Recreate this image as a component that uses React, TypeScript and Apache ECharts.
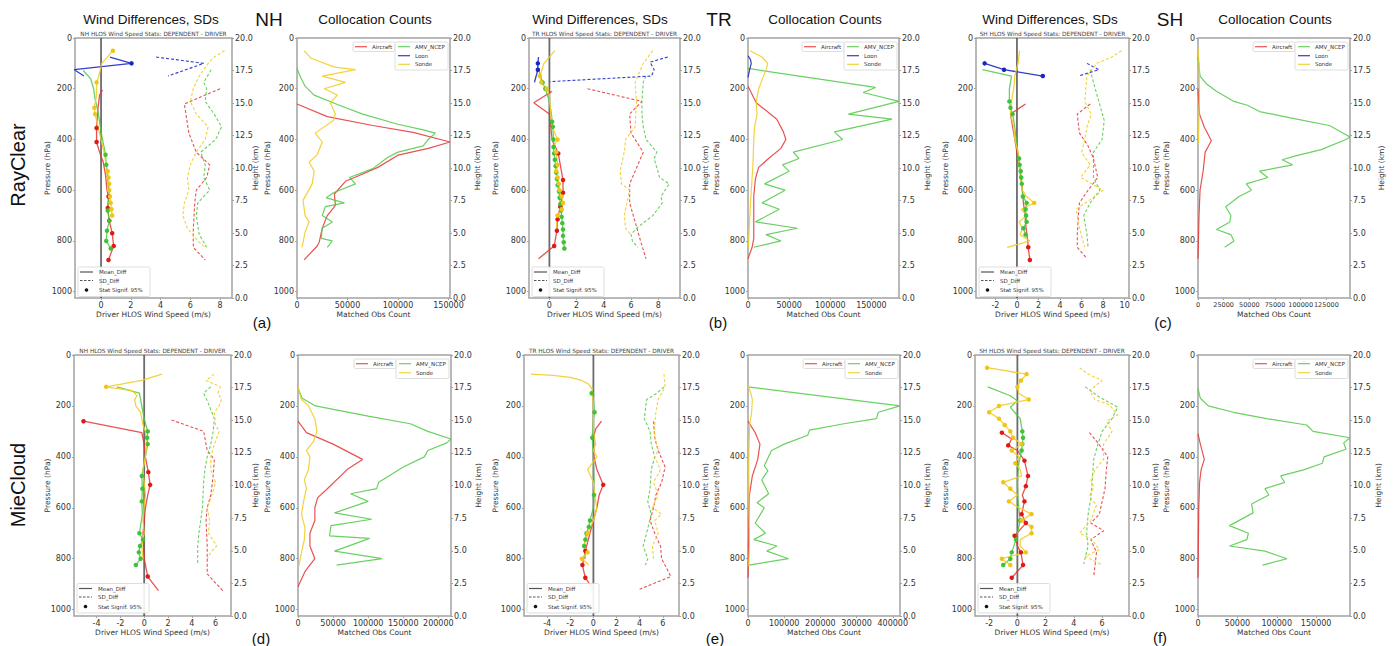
import { useEffect, useRef } from 'react';
import * as echarts from 'echarts';

// ---------------- DATA ----------------
// Mean differences: [wind speed diff (m/s), pressure (hPa), significant at 95% (1/0)]
// SD differences:   [wind speed SD (m/s), pressure (hPa)]
// Counts:           [matched obs count, pressure (hPa)]

// ---- NH RayClear ----
const NH_RC_AIR_MEAN = [[0.1,205,0],[-0.1,225,0],[-0.2,275,0],[-0.25,310,0],[-0.3,355,1],[-0.3,410,1],[-0.1,450,0],[0.15,490,0],[0.3,540,0],[0.4,600,0],[0.5,625,1],[0.45,670,1],[0.55,720,1],[0.75,770,1],[0.85,820,1],[0.5,875,1]];
const NH_RC_AMV_MEAN = [[-1.2,128,0],[-0.7,160,0],[-0.5,200,0],[-0.4,240,0],[-0.2,290,0],[0.0,370,0],[0.3,460,1],[0.35,500,1],[0.45,560,0],[0.55,620,0],[0.45,680,1],[0.55,720,1],[0.4,760,1],[0.35,800,1],[0.65,830,1]];
const NH_RC_LOON_MEAN = [[0.6,75,0],[2.05,100,1],[-1.8,125,0],[-1.15,150,0]];
const NH_RC_SONDE_MEAN = [[0.8,50,1],[0.05,100,0],[-0.15,150,0],[-0.3,175,1],[-0.3,225,0],[-0.45,275,1],[-0.4,300,1],[-0.2,350,0],[0.0,400,0],[0.2,450,0],[0.35,500,0],[0.45,525,1],[0.5,550,1],[0.55,575,1],[0.55,600,1],[0.6,625,1],[0.65,650,1],[0.7,675,1],[0.75,700,1]];
const NH_RC_AIR_SD = [[8.0,200],[5.6,260],[5.9,375],[6.4,450],[7.3,500],[7.1,550],[6.4,600],[6.3,650],[6.2,750],[6.2,825],[7.0,875]];
const NH_RC_AMV_SD = [[7.4,125],[6.9,175],[7.1,200],[7.0,250],[7.6,300],[8.1,350],[7.7,400],[6.7,450],[7.0,500],[6.9,550],[7.3,600],[6.5,650],[6.4,700],[6.6,775],[7.1,825]];
const NH_RC_LOON_SD = [[3.7,75],[6.9,100],[4.5,150]];
const NH_RC_SONDE_SD = [[8.3,50],[7.6,75],[7.2,100],[6.6,150],[6.2,200],[6.0,250],[6.4,300],[7.2,350],[7.0,400],[6.4,450],[6.0,500],[5.8,550],[5.9,600],[5.6,650],[5.5,700],[5.8,750],[6.5,800],[7.0,825]];
const NH_RC_AIR_CNT = [[0,260],[30000,310],[75000,345],[115000,372],[151500,410],[130000,435],[100000,462],[80000,510],[57000,550],[48000,565],[37000,615],[38000,660],[30000,700],[25000,750],[22000,805],[20000,820],[7000,875]];
const NH_RC_AMV_CNT = [[0,120],[3000,150],[8000,190],[17000,225],[40000,262],[65000,300],[100000,340],[125000,362],[137000,375],[130000,400],[125000,425],[100000,450],[90000,470],[75000,515],[52000,550],[58000,575],[36000,610],[29000,630],[47000,650],[28000,665],[25000,700],[35000,725],[25000,750],[24000,790],[35000,800],[30000,825]];
const NH_RC_SONDE_CNT = [[7000,50],[14000,80],[37000,115],[58000,125],[25000,150],[48000,175],[27000,200],[40000,225],[33000,255],[38000,300],[36000,325],[18000,375],[25000,410],[20000,460],[12000,490],[17000,525],[15000,575],[6000,640],[8000,700],[12000,725],[8000,765],[5000,825]];

// ---- TR RayClear ----
const TR_RC_AIR_MEAN = [[0.2,210,0],[-1.15,255,0],[0.0,300,0],[0.1,350,0],[0.2,400,0],[0.65,455,1],[0.8,500,0],[1.0,560,1],[1.0,610,1],[0.8,665,1],[0.6,715,1],[0.55,760,1],[0.35,820,1],[-0.8,870,0]];
const TR_RC_AMV_MEAN = [[-0.8,125,0],[-0.5,175,1],[-0.3,200,1],[0.0,250,0],[0.15,300,0],[0.2,330,1],[0.25,350,1],[0.3,400,1],[0.3,430,1],[0.35,455,1],[0.4,480,1],[0.45,505,1],[0.5,530,1],[0.55,555,1],[0.6,580,1],[0.7,605,1],[0.75,630,1],[0.8,655,1],[0.85,680,1],[0.9,705,1],[0.95,730,1],[1.0,755,1],[1.0,780,1],[1.05,805,1],[1.1,830,1]];
const TR_RC_LOON_MEAN = [[-0.8,75,0],[-0.85,100,1],[-0.85,125,1],[-1.1,175,0]];
const TR_RC_SONDE_MEAN = [[0.4,50,0],[-0.4,100,0],[-0.7,150,1],[-0.6,175,1],[-0.2,200,1],[0.0,225,0],[0.1,300,0],[0.2,350,0],[0.6,400,1],[0.35,425,0],[0.5,450,1],[0.6,500,1],[0.5,525,1],[0.6,550,1],[0.7,575,1],[0.75,600,1],[0.9,625,1],[1.0,650,1],[0.9,675,1],[0.6,700,1],[0.5,750,0]];
const TR_RC_AIR_SD = [[2.8,200],[6.8,250],[5.9,300],[6.0,375],[6.9,450],[6.3,525],[5.9,575],[5.9,650],[6.3,725],[6.7,800],[7.1,870]];
const TR_RC_AMV_SD = [[7.1,150],[6.9,175],[6.8,250],[6.8,300],[6.9,350],[7.1,400],[7.9,450],[7.7,475],[8.1,550],[8.8,575],[8.2,625],[8.3,650],[7.6,700],[6.4,750],[6.0,775],[6.1,800],[6.5,825]];
const TR_RC_LOON_SD = [[8.7,75],[7.4,95],[7.7,125],[7.5,150],[0.05,172]];
const TR_RC_SONDE_SD = [[7.6,50],[6.9,100],[6.5,150],[6.3,175],[6.4,250],[6.3,350],[5.6,400],[5.5,450],[5.2,525],[5.3,575],[5.9,600],[5.7,650],[5.5,700],[5.6,750],[6.0,775]];
const TR_RC_AIR_CNT = [[0,190],[10000,255],[35000,320],[43000,370],[46000,400],[40000,435],[25000,475],[13000,510],[9000,555],[7000,625],[7000,790],[5000,825],[0,870]];
const TR_RC_AMV_CNT = [[0,120],[155000,195],[140000,215],[183500,250],[122000,300],[175000,320],[105000,370],[115000,400],[55000,450],[62000,475],[42000,500],[50000,525],[20000,575],[45000,600],[17000,650],[38000,675],[9000,725],[60000,750],[22000,775],[40000,800],[7000,825]];
const TR_RC_LOON_CNT = [[0,70],[3000,85],[4000,100],[2000,125],[0,155]];
const TR_RC_SONDE_CNT = [[2500,50],[17000,75],[24000,100],[22000,125],[17000,165],[13000,200],[10000,250],[11000,300],[8000,350],[7000,400],[6000,500],[4500,575],[3000,650],[1500,750],[500,825]];

// ---- SH RayClear ----
const SH_RC_AIR_MEAN = [[0.8,260,0],[-0.6,300,0],[-0.4,350,0],[-0.2,400,0],[0.0,450,0],[0.2,500,0],[0.35,550,0],[0.5,600,0],[0.6,650,0],[0.75,700,0],[0.85,750,0],[1.0,800,0],[1.05,825,1],[1.2,875,1]];
const SH_RC_AMV_MEAN = [[-3.2,125,0],[-0.5,150,0],[-0.6,175,0],[-0.7,200,0],[-0.7,250,1],[-0.6,275,1],[-0.4,300,1],[-0.2,350,0],[0.0,425,0],[0.2,475,1],[0.25,500,1],[0.35,525,1],[0.4,550,1],[0.45,575,1],[0.55,625,1],[0.9,650,1],[0.8,675,1],[0.85,700,1],[0.9,725,1],[0.6,750,1],[0.8,775,1]];
const SH_RC_LOON_MEAN = [[-3.0,100,1],[-1.2,125,1],[2.4,150,1]];
const SH_RC_SONDE_MEAN = [[0.25,50,0],[0.1,100,0],[-0.2,150,0],[-0.3,200,0],[-0.5,250,0],[-0.6,300,0],[-0.3,350,0],[-0.2,400,0],[0.1,450,0],[0.2,500,0],[0.3,550,0],[0.5,600,0],[0.9,625,0],[1.6,650,1],[0.4,675,0],[0.9,700,0],[0.2,725,0],[0.5,750,0],[0.3,775,0],[1.2,800,0],[-0.9,825,0]];
const SH_RC_AIR_SD = [[6.8,260],[5.6,300],[5.8,375],[6.6,425],[7.1,475],[7.5,550],[6.6,600],[5.8,650],[5.7,700],[5.6,775],[5.6,825],[6.5,870]];
const SH_RC_AMV_SD = [[6.8,125],[7.1,175],[7.6,250],[8.1,325],[7.9,400],[7.1,450],[7.1,550],[7.7,600],[6.8,650],[6.2,700],[6.5,775],[6.6,825]];
const SH_RC_LOON_SD = [[6.5,100],[7.6,125],[5.7,150]];
const SH_RC_SONDE_SD = [[9.7,50],[8.8,75],[7.4,100],[6.5,150],[6.4,200],[6.3,250],[6.9,300],[6.5,350],[6.3,400],[6.0,450],[6.8,500],[5.9,550],[8.0,600],[7.2,625],[5.5,675],[5.8,750],[6.3,825]];
const SH_RC_AIR_CNT = [[0,200],[1500,300],[6000,350],[13000,405],[7000,450],[5000,525],[2000,600],[1000,700],[0,870]];
const SH_RC_AMV_CNT = [[0,75],[2000,150],[8000,180],[18000,210],[35000,250],[48000,265],[60000,290],[90000,315],[128000,345],[148000,390],[144000,400],[120000,440],[95000,465],[82000,480],[92000,500],[60000,525],[68000,550],[47000,575],[52000,600],[40000,625],[27000,665],[32000,700],[31000,725],[18000,755],[32000,775],[35000,800],[26000,825]];
const SH_RC_SONDE_CNT = [[0,40],[1000,100],[1500,200],[1000,300],[500,400],[0,420]];

// ---- NH MieCloud ----
const NH_MC_AIR_MEAN = [[-5.1,260,1],[-0.2,305,0],[0.0,350,0],[0.1,400,0],[0.35,460,1],[0.5,510,1],[0.3,550,0],[0.1,600,0],[0.0,650,0],[-0.1,700,0],[-0.05,750,0],[0.0,800,0],[0.3,870,1],[1.2,925,0]];
const NH_MC_AMV_MEAN = [[-2.3,125,0],[-0.4,150,0],[-0.2,200,0],[0.0,250,0],[0.3,300,1],[0.25,325,1],[0.3,350,1],[0.1,400,0],[-0.1,450,0],[-0.2,475,1],[-0.15,525,1],[-0.2,575,1],[-0.15,625,0],[-0.4,700,1],[-0.1,725,1],[-0.35,750,1],[-0.45,775,1],[-0.3,800,1],[-0.7,825,1]];
const NH_MC_SONDE_MEAN = [[1.5,75,0],[-0.2,100,0],[-3.2,125,1],[-1.0,140,0],[-0.6,160,0],[-0.8,175,0],[-0.7,200,0],[-0.3,225,0],[-0.1,275,0],[0.1,300,0],[0.2,350,0],[0.1,400,0],[-0.1,450,0],[0.0,500,0],[0.1,550,0],[0.0,600,0],[-0.1,650,0],[0.0,700,0],[-0.2,750,0],[-0.1,800,0]];
const NH_MC_AIR_SD = [[2.3,255],[5.0,300],[5.3,375],[5.9,410],[5.8,475],[5.6,550],[5.3,600],[5.2,650],[5.3,750],[5.3,860],[6.6,925]];
const NH_MC_AMV_SD = [[5.6,125],[5.0,150],[5.4,190],[5.9,250],[5.8,300],[5.6,350],[5.3,400],[5.1,450],[5.0,500],[4.9,600],[4.6,700],[4.5,750],[4.5,825]];
const NH_MC_SONDE_SD = [[5.9,75],[5.2,100],[6.4,125],[6.2,150],[6.5,175],[6.3,200],[5.9,225],[6.0,275],[6.3,300],[5.9,350],[5.6,400],[5.6,450],[6.0,500],[5.7,550],[5.3,600],[5.5,650],[5.4,700],[6.1,750],[5.6,775],[5.3,800]];
const NH_MC_AIR_CNT = [[0,260],[12000,305],[50000,350],[92000,410],[70000,450],[40000,530],[28000,560],[24000,600],[24000,650],[17000,700],[17000,750],[24000,800],[10000,850],[0,910]];
const NH_MC_AMV_CNT = [[0,130],[6000,170],[25000,200],[100000,240],[160000,270],[185000,300],[218000,330],[212000,345],[185000,375],[180000,400],[150000,440],[115000,500],[112000,525],[75000,545],[100000,575],[52000,620],[105000,645],[47000,670],[45000,710],[102000,720],[52000,770],[120000,800],[55000,825]];
const NH_MC_SONDE_CNT = [[0,125],[5000,175],[15000,200],[24000,250],[27000,300],[22000,340],[12000,375],[17000,400],[15000,450],[9000,490],[12000,525],[8000,575],[5000,625],[10000,680],[9000,725],[5000,775],[1000,830]];

// ---- TR MieCloud ----
const TR_MC_AIR_MEAN = [[0.7,260,0],[0.2,290,0],[0.0,325,0],[0.05,400,0],[0.3,450,0],[0.85,510,1],[0.5,550,0],[0.3,600,0],[0.0,650,0],[-0.3,700,0],[-0.7,770,1],[-0.95,825,1],[-0.7,875,1],[0.0,920,0]];
const TR_MC_AMV_MEAN = [[0.0,125,0],[-0.15,150,1],[0.0,175,0],[0.1,225,1],[0.0,250,0],[-0.1,325,1],[0.0,400,0],[0.05,500,0],[0.05,550,1],[0.0,600,0],[-0.3,650,1],[-0.4,675,1],[-0.6,700,1],[-0.7,725,1],[-0.8,750,1],[-0.7,800,0]];
const TR_MC_SONDE_MEAN = [[-5.4,75,0],[-3.5,80,0],[-2.0,88,0],[-1.0,100,0],[-0.4,115,0],[-0.1,135,0],[0.0,200,0],[0.0,250,0],[0.0,300,0],[0.2,350,0],[0.0,375,0],[0.3,400,0],[-0.5,450,0],[0.0,500,0],[0.1,550,0],[0.3,600,0],[0.0,650,0],[-0.5,700,1],[-0.6,725,0],[-0.9,750,0],[-0.5,775,1],[-1.0,800,1],[-0.4,825,0]];
const TR_MC_AIR_SD = [[5.2,260],[5.3,325],[5.6,375],[6.2,440],[5.9,500],[5.4,550],[5.2,600],[4.9,650],[5.3,700],[5.8,750],[5.9,800],[6.7,870],[4.0,920]];
const TR_MC_AMV_SD = [[6.1,125],[5.5,150],[4.6,175],[4.4,250],[4.9,300],[5.0,350],[5.3,400],[5.0,450],[4.9,525],[4.7,575],[5.0,625],[4.6,700],[4.3,750],[4.7,800],[4.5,825]];
const TR_MC_SONDE_SD = [[6.1,75],[6.2,125],[5.6,175],[5.4,225],[5.3,275],[5.3,325],[5.6,375],[5.3,400],[5.8,450],[5.2,500],[5.6,550],[5.1,600],[5.9,625],[5.3,650],[5.6,700],[5.1,750],[5.2,800]];
const TR_MC_AIR_CNT = [[0,260],[20000,305],[33000,350],[27000,410],[12000,475],[4000,550],[2000,650],[1000,800],[0,875]];
const TR_MC_AMV_CNT = [[0,125],[420000,200],[360000,225],[355000,250],[265000,270],[170000,295],[165000,315],[100000,350],[65000,375],[45000,435],[55000,455],[38000,490],[57000,545],[25000,580],[45000,600],[20000,660],[48000,700],[16000,725],[80000,750],[52000,770],[112000,800],[2000,825]];
const TR_MC_SONDE_CNT = [[0,120],[8000,150],[12000,175],[10000,225],[5000,270],[3000,350],[2000,450],[3000,600],[4000,750],[2000,830]];

// ---- SH MieCloud ----
const SH_MC_AIR_MEAN = [[-1.1,305,1],[-0.4,330,0],[-0.65,355,1],[0.0,375,0],[0.5,415,1],[0.75,475,1],[0.6,515,1],[0.35,550,0],[0.5,575,1],[0.3,625,1],[0.6,660,1],[-0.2,710,1],[0.0,750,0],[0.25,775,1],[0.4,825,1],[-0.4,875,1]];
const SH_MC_AMV_MEAN = [[-2.1,125,0],[-0.5,160,0],[0.0,180,0],[-0.5,205,0],[-0.2,225,0],[0.2,250,0],[0.35,300,1],[0.4,325,1],[0.35,350,1],[0.3,375,1],[0.1,425,0],[0.0,500,0],[0.05,575,0],[0.2,650,1],[0.0,700,0],[-0.1,725,1],[-0.4,775,1],[-0.5,800,1],[-1.0,825,1]];
const SH_MC_SONDE_MEAN = [[-2.15,50,1],[0.65,75,1],[0.25,100,1],[0.0,125,1],[0.1,150,0],[0.8,175,1],[-1.3,200,1],[-2.0,225,1],[-1.3,250,1],[-0.9,275,1],[-0.5,300,1],[-0.3,325,1],[0.3,350,1],[-0.4,375,1],[0.1,400,0],[-0.15,425,1],[0.2,450,0],[0.3,475,0],[-1.0,500,1],[-0.5,525,1],[0.0,550,0],[-0.6,575,1],[0.1,600,0],[1.0,625,1],[0.3,650,1],[1.0,675,1],[1.0,700,1],[0.2,725,0],[0.2,750,0],[0.6,775,1],[-1.1,800,1],[-0.5,825,1]];
const SH_MC_AIR_SD = [[5.1,305],[5.7,345],[6.4,400],[6.3,450],[6.2,525],[6.0,575],[5.8,625],[5.2,660],[6.1,690],[5.2,725],[5.6,775],[5.5,825],[5.4,870]];
const SH_MC_AMV_SD = [[4.8,125],[5.8,165],[7.1,205],[6.7,250],[6.0,300],[5.7,350],[5.4,410],[5.3,490],[5.2,560],[5.0,630],[4.9,700],[5.0,750],[4.7,820]];
const SH_MC_SONDE_SD = [[4.4,50],[5.0,75],[6.0,100],[5.1,140],[5.5,175],[6.5,195],[7.1,235],[6.3,260],[6.7,300],[6.1,350],[6.1,410],[5.5,450],[5.2,490],[5.4,520],[5.1,555],[5.6,590],[5.2,650],[4.4,700],[5.3,725],[5.8,765],[4.8,790],[6.0,825]];
const SH_MC_AIR_CNT = [[0,310],[3000,350],[8000,410],[4000,450],[2000,500],[1000,600],[0,875]];
const SH_MC_AMV_CNT = [[0,130],[3000,170],[13000,200],[45000,225],[87000,250],[138000,275],[146000,300],[193000,325],[185000,345],[188000,370],[160000,400],[158000,425],[135000,450],[105000,475],[110000,500],[85000,525],[90000,550],[68000,585],[70000,620],[40000,670],[64000,700],[62000,725],[40000,750],[85000,770],[113000,800],[82000,825]];

// ---- Tick labels ----
const P_TICKS = [0, 200, 400, 600, 800, 1000];
const H_TICKS = [0, 2.5, 5, 7.5, 10, 12.5, 15, 17.5, 20];
const X_TICKS_NH_RC = [0, 2, 4, 6, 8];
const X_TICKS_TR_RC = [0, 2, 4, 6, 8];
const X_TICKS_SH_RC = [-2, 0, 2, 4, 6, 8, 10];
const X_TICKS_NH_MC = [-4, -2, 0, 2, 4, 6];
const X_TICKS_TR_MC = [-4, -2, 0, 2, 4, 6];
const X_TICKS_SH_MC = [-2, 0, 2, 4, 6];
const C_TICKS_NH_RC = [0, 50000, 100000, 150000];
const C_TICKS_TR_RC = [0, 50000, 100000, 150000];
const C_TICKS_SH_RC = [0, 25000, 50000, 75000, 100000, 125000];
const C_TICKS_NH_MC = [0, 50000, 100000, 150000, 200000];
const C_TICKS_TR_MC = [0, 100000, 200000, 300000, 400000];
const C_TICKS_SH_MC = [0, 50000, 100000, 150000];

// ---------------- STYLE ----------------
const FONT = "'DejaVu Sans', sans-serif";
const TFONT = "'Liberation Sans', Arial, sans-serif";
const FRAME = '#a3a3a3';
const TXT = '#333';
const LINE: Record<string, string> = { air: 'rgba(230,50,50,0.85)', amv: 'rgba(80,200,70,0.85)', loon: 'rgba(30,40,200,0.9)', sonde: 'rgba(242,205,40,0.9)' };
const DOT: Record<string, string> = { air: '#e01818', amv: '#40c238', loon: '#1a26c4', sonde: '#f0c515' };
const KEYS = ['air', 'amv', 'loon', 'sonde'];

const R1T = 38, R1H = 260, R2T = 355, R2H = 261;

// yName: [x of left "Pressure (hPa)" name, x of right "Height (km)" name]
const PANELS: any[] = [
  { kind: 'diff', region: 'NH', left: 75, top: R1T, width: 157, height: R1H, xMin: -1.75, xMax: 8.8, xTicks: X_TICKS_NH_RC, yName: [47, 255],
    mean: { air: NH_RC_AIR_MEAN, amv: NH_RC_AMV_MEAN, loon: NH_RC_LOON_MEAN, sonde: NH_RC_SONDE_MEAN },
    sd: { air: NH_RC_AIR_SD, amv: NH_RC_AMV_SD, loon: NH_RC_LOON_SD, sonde: NH_RC_SONDE_SD } },
  { kind: 'count', region: 'NH', left: 297, top: R1T, width: 153, height: R1H, xMin: 0, xMax: 151500, xTicks: C_TICKS_NH_RC, loon: true, yName: [267, 477],
    cnt: { air: NH_RC_AIR_CNT, amv: NH_RC_AMV_CNT, sonde: NH_RC_SONDE_CNT } },
  { kind: 'diff', region: 'TR', left: 529, top: R1T, width: 151, height: R1H, xMin: -1.5, xMax: 9.6, xTicks: X_TICKS_TR_RC, yName: [495, 705],
    mean: { air: TR_RC_AIR_MEAN, amv: TR_RC_AMV_MEAN, loon: TR_RC_LOON_MEAN, sonde: TR_RC_SONDE_MEAN },
    sd: { air: TR_RC_AIR_SD, amv: TR_RC_AMV_SD, loon: TR_RC_LOON_SD, sonde: TR_RC_SONDE_SD } },
  { kind: 'count', region: 'TR', left: 748, top: R1T, width: 151, height: R1H, xMin: 0, xMax: 183500, xTicks: C_TICKS_TR_RC, loon: true, yName: [716, 927],
    cnt: { air: TR_RC_AIR_CNT, amv: TR_RC_AMV_CNT, loon: TR_RC_LOON_CNT, sonde: TR_RC_SONDE_CNT } },
  { kind: 'diff', region: 'SH', left: 976, top: R1T, width: 153, height: R1H, xMin: -3.8, xMax: 10.4, xTicks: X_TICKS_SH_RC, yName: [945, 1156],
    mean: { air: SH_RC_AIR_MEAN, amv: SH_RC_AMV_MEAN, loon: SH_RC_LOON_MEAN, sonde: SH_RC_SONDE_MEAN },
    sd: { air: SH_RC_AIR_SD, amv: SH_RC_AMV_SD, loon: SH_RC_LOON_SD, sonde: SH_RC_SONDE_SD } },
  { kind: 'count', region: 'SH', left: 1198, top: R1T, width: 152, height: R1H, xMin: 0, xMax: 148000, xTicks: C_TICKS_SH_RC, loon: true, yName: [1166, 1381], xFont: 6.5,
    cnt: { air: SH_RC_AIR_CNT, amv: SH_RC_AMV_CNT, sonde: SH_RC_SONDE_CNT } },

  { kind: 'diff', region: 'NH', left: 74, top: R2T, width: 157, height: R2H, xMin: -5.9, xMax: 7.3, xTicks: X_TICKS_NH_MC, yName: [47, 255],
    mean: { air: NH_MC_AIR_MEAN, amv: NH_MC_AMV_MEAN, sonde: NH_MC_SONDE_MEAN },
    sd: { air: NH_MC_AIR_SD, amv: NH_MC_AMV_SD, sonde: NH_MC_SONDE_SD } },
  { kind: 'count', region: 'NH', left: 298, top: R2T, width: 153, height: R2H, xMin: 0, xMax: 218000, xTicks: C_TICKS_NH_MC, loon: false, yName: [267, 478],
    cnt: { air: NH_MC_AIR_CNT, amv: NH_MC_AMV_CNT, sonde: NH_MC_SONDE_CNT } },
  { kind: 'diff', region: 'TR', left: 524, top: R2T, width: 155, height: R2H, xMin: -6.0, xMax: 7.4, xTicks: X_TICKS_TR_MC, yName: [495, 705],
    mean: { air: TR_MC_AIR_MEAN, amv: TR_MC_AMV_MEAN, sonde: TR_MC_SONDE_MEAN },
    sd: { air: TR_MC_AIR_SD, amv: TR_MC_AMV_SD, sonde: TR_MC_SONDE_SD } },
  { kind: 'count', region: 'TR', left: 748, top: R2T, width: 152, height: R2H, xMin: 0, xMax: 420000, xTicks: C_TICKS_TR_MC, loon: false, yName: [716, 927],
    cnt: { air: TR_MC_AIR_CNT, amv: TR_MC_AMV_CNT, sonde: TR_MC_SONDE_CNT } },
  { kind: 'diff', region: 'SH', left: 975, top: R2T, width: 154, height: R2H, xMin: -3.0, xMax: 7.9, xTicks: X_TICKS_SH_MC, yName: [945, 1155],
    mean: { air: SH_MC_AIR_MEAN, amv: SH_MC_AMV_MEAN, sonde: SH_MC_SONDE_MEAN },
    sd: { air: SH_MC_AIR_SD, amv: SH_MC_AMV_SD, sonde: SH_MC_SONDE_SD } },
  { kind: 'count', region: 'SH', left: 1198, top: R2T, width: 152, height: R2H, xMin: 0, xMax: 193000, xTicks: C_TICKS_SH_MC, loon: false, yName: [1166, 1378],
    cnt: { air: SH_MC_AIR_CNT, amv: SH_MC_AMV_CNT } },
];

function txt(x: number, y: number, text: string, size: number, opts: any = {}) {
  return {
    type: 'text', x, y, z: 100, rotation: opts.rotation || 0,
    style: {
      text, fontSize: size, fontFamily: opts.family || FONT, fill: opts.fill || TXT,
      align: opts.align || 'center', verticalAlign: 'middle',
      textAlign: opts.align || 'center', textVerticalAlign: 'middle',
    },
  };
}
function seg(x1: number, y1: number, x2: number, y2: number, color: string, dash?: number[]) {
  return { type: 'line', z: 100, shape: { x1, y1, x2, y2 }, style: { stroke: color, lineWidth: 1.2, lineDash: dash || null } };
}
function box(x: number, y: number, w: number, h: number) {
  return { type: 'rect', z: 99, shape: { x, y, width: w, height: h, r: 1.5 }, style: { fill: 'rgba(255,255,255,0.9)', stroke: '#d6d6d6', lineWidth: 0.8 } };
}
const plain = (v: number) => String(v);

function buildOption() {
  const grid: any[] = [], xAxis: any[] = [], yAxis: any[] = [], series: any[] = [], graphic: any[] = [];
  const tickStyle = { color: FRAME, width: 1 };
  PANELS.forEach((pn, i) => {
    const isDiff = pn.kind === 'diff';
    grid.push({ left: pn.left, top: pn.top, width: pn.width, height: pn.height, show: true, borderColor: FRAME, borderWidth: 1.5, backgroundColor: 'transparent' });
    xAxis.push({
      type: 'value', gridIndex: i, min: pn.xMin, max: pn.xMax,
      name: isDiff ? 'Driver HLOS Wind Speed (m/s)' : 'Matched Obs Count', nameLocation: 'middle', nameGap: 12,
      nameMoveOverlap: false,
      nameTextStyle: { fontSize: 7.5, fontFamily: FONT, color: TXT },
      axisLine: { show: false, onZero: false },
      axisTick: { show: true, length: 2, lineStyle: tickStyle, customValues: pn.xTicks },
      axisLabel: { customValues: pn.xTicks, fontSize: pn.xFont || 8, fontFamily: FONT, color: TXT, margin: 3, hideOverlap: false, formatter: plain },
      splitLine: { show: false },
    });
    yAxis.push({
      type: 'value', gridIndex: i, position: 'left', inverse: true, min: 0, max: 1025,
      axisLine: { show: false, onZero: false },
      axisTick: { show: true, length: 2, lineStyle: tickStyle, customValues: P_TICKS },
      axisLabel: { customValues: P_TICKS, fontSize: 8, fontFamily: FONT, color: TXT, margin: 3, formatter: plain },
      splitLine: { show: false },
    });
    yAxis.push({
      type: 'value', gridIndex: i, position: 'right', min: 0, max: 20,
      axisLine: { show: false, onZero: false },
      axisTick: { show: true, length: 2, lineStyle: tickStyle, customValues: H_TICKS },
      axisLabel: { customValues: H_TICKS, fontSize: 8, fontFamily: FONT, color: TXT, margin: 3, formatter: (v: number) => v.toFixed(1) },
      splitLine: { show: false },
    });
    const cy = pn.top + pn.height / 2;
    graphic.push(txt(pn.yName[0], cy, 'Pressure (hPa)', 7.5, { rotation: Math.PI / 2 }));
    graphic.push(txt(pn.yName[1], cy, 'Height (km)', 7.5, { rotation: Math.PI / 2 }));

    const base = { type: 'line', xAxisIndex: i, yAxisIndex: 2 * i, silent: true, emphasis: { disabled: true }, animation: false };
    if (isDiff) {
      series.push({ ...base, data: [[0, 0], [0, 1025]], symbol: 'none', lineStyle: { color: 'rgba(70,70,70,0.8)', width: 1.8 }, z: 1 });
      KEYS.forEach((k) => {
        const m = pn.mean[k];
        if (m) {
          series.push({
            ...base, name: k + '_mean', z: 3,
            data: m.map((d: number[]) => ({ value: [d[0], d[1]], symbol: d[2] ? 'circle' : 'none' })),
            showSymbol: true, symbolSize: 4.5,
            lineStyle: { color: LINE[k], width: 1.3 }, itemStyle: { color: DOT[k] },
          });
        }
        const s = pn.sd[k];
        if (s) {
          series.push({
            ...base, name: k + '_sd', z: 2, data: s, symbol: 'none',
            lineStyle: { color: LINE[k], width: 1.1, type: [3, 2] },
          });
        }
      });
      const cx = pn.left + pn.width / 2;
      graphic.push(txt(cx, pn.top - 4.5, pn.region + ' HLOS Wind Speed Stats: DEPENDENT - DRIVER', 5.8, { fill: '#444' }));
      const L = pn.left, B = pn.top + pn.height;
      const o = i < 6 ? 0 : 1.5;
      graphic.push(box(L + 3, B - 31 - o, 72, 29.5));
      graphic.push(seg(L + 5, B - 26 - o, L + 18, B - 26 - o, '#555'));
      graphic.push(txt(L + 24, B - 26 - o, 'Mean_Diff', 5.5, { align: 'left' }));
      graphic.push(seg(L + 5, B - 17.5 - o, L + 18, B - 17.5 - o, '#555', [2.5, 1.5]));
      graphic.push(txt(L + 24, B - 17.5 - o, 'SD_Diff', 5.5, { align: 'left' }));
      graphic.push({ type: 'circle', z: 100, shape: { cx: L + 11.5, cy: B - 8 - o, r: 1.8 }, style: { fill: '#111' } });
      graphic.push(txt(L + 24, B - 8 - o, 'Stat Signif. 95%', 5.5, { align: 'left' }));
    } else {
      KEYS.forEach((k) => {
        const c = pn.cnt[k];
        if (c) {
          series.push({ ...base, name: k + '_count', z: 2, data: c, symbol: 'none', lineStyle: { color: LINE[k], width: 1.2 } });
        }
      });
      const R = pn.left + pn.width, T = pn.top;
      graphic.push(box(R - 97, T + 4, 42, 9.5));
      graphic.push(box(R - 55, T + 4, 53, pn.loon ? 28 : 19.5));
      graphic.push(seg(R - 95, T + 8.7, R - 83, T + 8.7, LINE.air));
      graphic.push(txt(R - 78, T + 8.7, 'Aircraft', 5.5, { align: 'left' }));
      graphic.push(seg(R - 52, T + 8.7, R - 40, T + 8.7, LINE.amv));
      graphic.push(txt(R - 35, T + 8.7, 'AMV_NCEP', 5.5, { align: 'left' }));
      if (pn.loon) {
        graphic.push(seg(R - 52, T + 17.7, R - 40, T + 17.7, LINE.loon));
        graphic.push(txt(R - 35, T + 17.7, 'Loon', 5.5, { align: 'left' }));
        graphic.push(seg(R - 52, T + 26.3, R - 40, T + 26.3, LINE.sonde));
        graphic.push(txt(R - 35, T + 26.3, 'Sonde', 5.5, { align: 'left' }));
      } else {
        graphic.push(seg(R - 52, T + 17.7, R - 40, T + 17.7, LINE.sonde));
        graphic.push(txt(R - 35, T + 17.7, 'Sonde', 5.5, { align: 'left' }));
      }
    }
  });

  [151, 600, 1050].forEach((x) => graphic.push(txt(x, 19, 'Wind Differences, SDs', 13.5, { family: TFONT, fill: '#111' })));
  [375, 825, 1275].forEach((x) => graphic.push(txt(x, 19, 'Collocation Counts', 13.5, { family: TFONT, fill: '#111' })));
  graphic.push(txt(269, 19, 'NH', 19, { family: TFONT, fill: '#111' }));
  graphic.push(txt(719, 19, 'TR', 19, { family: TFONT, fill: '#111' }));
  graphic.push(txt(1170, 19, 'SH', 19, { family: TFONT, fill: '#111' }));
  graphic.push(txt(18, 165, 'RayClear', 20, { family: TFONT, fill: '#111', rotation: Math.PI / 2 }));
  graphic.push(txt(18, 485, 'MieCloud', 20, { family: TFONT, fill: '#111', rotation: Math.PI / 2 }));
  graphic.push(txt(262, 322, '(a)', 15, { family: TFONT, fill: '#111' }));
  graphic.push(txt(718, 322, '(b)', 15, { family: TFONT, fill: '#111' }));
  graphic.push(txt(1163, 322, '(c)', 15, { family: TFONT, fill: '#111' }));
  graphic.push(txt(261, 638, '(d)', 15, { family: TFONT, fill: '#111' }));
  graphic.push(txt(715, 638, '(e)', 15, { family: TFONT, fill: '#111' }));
  graphic.push(txt(1160, 637, '(f)', 15, { family: TFONT, fill: '#111' }));

  return { animation: false, backgroundColor: '#fff', grid, xAxis, yAxis, series, graphic };
}

export default function App() {
  const ref = useRef<HTMLDivElement>(null);
  useEffect(() => {
    if (!ref.current) return;
    const chart = echarts.init(ref.current, undefined, { renderer: 'svg' });
    chart.setOption(buildOption() as any);
    return () => chart.dispose();
  }, []);
  return <div ref={ref} style={{ position: 'fixed', left: 0, top: 0, width: 1395, height: 646, background: '#fff' }} />;
}
